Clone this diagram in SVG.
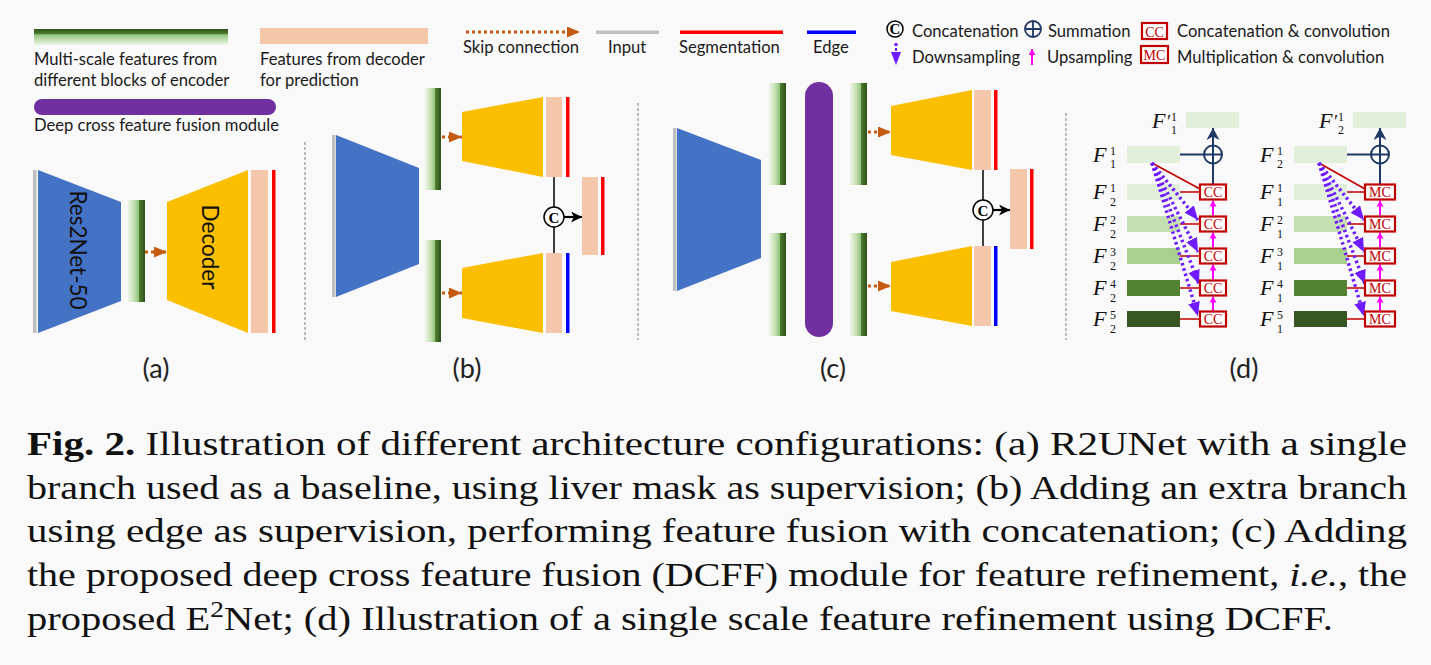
<svg xmlns="http://www.w3.org/2000/svg" width="1431" height="665" viewBox="0 0 1431 665">
<defs>
<linearGradient id="gH" x1="0" y1="0" x2="1" y2="0">
<stop offset="0" stop-color="#eef6e8"/>
<stop offset="0.35" stop-color="#c6e0b4"/>
<stop offset="0.62" stop-color="#93c47d"/>
<stop offset="0.66" stop-color="#4f7c31"/>
<stop offset="1" stop-color="#2f5019"/>
</linearGradient>
<linearGradient id="gV" x1="0" y1="0" x2="0" y2="1">
<stop offset="0" stop-color="#2f5019"/>
<stop offset="0.3" stop-color="#4f7c31"/>
<stop offset="0.36" stop-color="#93c47d"/>
<stop offset="1" stop-color="#eef6e8"/>
</linearGradient>
<marker id="mSkip" markerUnits="userSpaceOnUse" markerWidth="14" markerHeight="12" refX="13" refY="5.5" orient="auto"><path d="M0,0 L13,5.5 L0,11 z" fill="#c55a11"/></marker>
<marker id="mBlk" markerUnits="userSpaceOnUse" markerWidth="12" markerHeight="12" refX="11" refY="5.5" orient="auto"><path d="M0,0 L11,5.5 L0,11 L3,5.5 z" fill="#000"/></marker>
<marker id="mNavy" markerUnits="userSpaceOnUse" markerWidth="14" markerHeight="14" refX="12" refY="6.5" orient="auto"><path d="M0,0 L12,6.5 L0,13 L3.5,6.5 z" fill="#1f3864"/></marker>
<marker id="mPur" markerUnits="userSpaceOnUse" markerWidth="15" markerHeight="13" refX="14" refY="6" orient="auto"><path d="M0,0 L14,6 L0,12 z" fill="#6e1cff"/></marker>
<marker id="mMag" markerUnits="userSpaceOnUse" markerWidth="8" markerHeight="8" refX="6" refY="3.5" orient="auto"><path d="M0,0 L6,3.5 L0,7 z" fill="#ff00ff"/></marker>
<style>
.lg{font-family:Lato,"Liberation Sans",sans-serif;font-size:16.6px;fill:#1a1a1a}
.pl{font-family:Lato,"Liberation Sans",sans-serif;font-size:27px;fill:#222;text-anchor:middle}
.rot{font-family:Lato,"Liberation Sans",sans-serif;font-size:22.5px;fill:#111;text-anchor:middle;dominant-baseline:central}
.cap{font-family:"Liberation Serif",serif;font-size:34px;fill:#111}
.fi{font-family:"Liberation Serif",serif;font-style:italic;font-size:22px;fill:#111}
.sc{font-family:"Liberation Serif",serif;font-style:normal;font-size:12px;fill:#111}
.cc{font-family:"Liberation Serif",serif;font-size:14px;fill:#c00000;text-anchor:middle}
.ccb{fill:#fff;stroke:#c00000;stroke-width:2.2}
.skip{stroke:#c55a11;stroke-width:3;stroke-dasharray:3 3;fill:none;marker-end:url(#mSkip)}
.sep{stroke:#a6a6a6;stroke-width:1.5;stroke-dasharray:3 2}
.enc{fill:#4472c4}.dec{fill:#fbbf00}.pch{fill:#f4c7ab}.grn{fill:url(#gH)}
.inp{fill:#bfbfbf}.seg{fill:#ff0000}.edg{fill:#0000ff}
.catc{fill:#fff;stroke:#000;stroke-width:1.5}
.catt{font-family:"Liberation Serif",serif;font-weight:bold;font-size:15px;text-anchor:middle;fill:#000}
.blk{stroke:#000;stroke-width:1.5;fill:none}
.bar{stroke:#000;stroke-width:2.2;fill:none;marker-end:url(#mBlk)}
.nv{stroke:#1f3864;stroke-width:2;fill:none}
.red{stroke:#c00000;stroke-width:1.6;fill:none}
.pur{stroke:#6e1cff;stroke-width:3.5;stroke-dasharray:2.5 3;fill:none;marker-end:url(#mPur)}
.mag{stroke:#ff00ff;stroke-width:2;fill:none;marker-end:url(#mMag)}
.f1{fill:#e2efda}.f2{fill:#c6e0b4}.f3{fill:#a9d08e}.f4{fill:#548235}.f5{fill:#375623}
</style>
</defs>
<rect x="0" y="0" width="1431" height="665" fill="#f9f9f9"/>

<!-- Legend -->
<g id="legend">
<g id="lg-multiscale"><rect x="34" y="29" width="194" height="16" fill="url(#gV)"/>
<text class="lg" x="34" y="65">Multi-scale features from</text>
<text class="lg" x="34" y="86">different blocks of encoder</text></g>
<g id="lg-decoderfeat"><rect x="260" y="28" width="168" height="16" class="pch"/>
<text class="lg" x="260" y="65">Features from decoder</text>
<text class="lg" x="260" y="86">for prediction</text></g>
<g id="lg-dcff"><rect x="34" y="99" width="242" height="16" rx="8" fill="#7030a0"/>
<text class="lg" x="34" y="131">Deep cross feature fusion module</text></g>
<g id="lg-skip"><line class="skip" x1="466" y1="32" x2="580" y2="32"/>
<text class="lg" x="463" y="53">Skip connection</text></g>
<g id="lg-input"><rect class="inp" x="596" y="30.5" width="63" height="3.5"/><text class="lg" x="608" y="53">Input</text></g>
<g id="lg-seg"><rect class="seg" x="680" y="30.5" width="103" height="3.5"/><text class="lg" x="679" y="53">Segmentation</text></g>
<g id="lg-edge"><rect class="edg" x="807" y="30.5" width="49" height="3.5"/><text class="lg" x="813" y="53">Edge</text></g>
<g id="lg-concat"><circle cx="895" cy="29" r="8" fill="none" stroke="#000" stroke-width="1.5"/>
<text class="catt" x="895" y="34" font-size="13">C</text>
<text class="lg" x="912" y="37">Concatenation</text></g>
<g id="lg-sum"><circle cx="1033" cy="29" r="8" fill="none" stroke="#1f3864" stroke-width="1.8"/>
<path d="M1025,29 H1041 M1033,21 V37" stroke="#1f3864" stroke-width="1.8"/>
<text class="lg" x="1048" y="37">Summation</text></g>
<g id="lg-cc"><rect class="ccb" x="1142" y="23" width="25" height="16"/>
<text class="cc" x="1154.5" y="36.5" font-size="16">CC</text>
<text class="lg" x="1177" y="37">Concatenation &amp; convolution</text></g>
<g id="lg-down"><circle cx="896" cy="44.5" r="1.8" fill="#6e1cff"/>
<path d="M896,48 V51" stroke="#6e1cff" stroke-width="2"/>
<polygon points="891,52 901,52 896,65" fill="#6e1cff"/>
<text class="lg" x="912" y="63">Downsampling</text></g>
<g id="lg-up"><line class="mag" x1="1032" y1="65" x2="1032" y2="49"/>
<text class="lg" x="1047" y="63">Upsampling</text></g>
<g id="lg-mc"><rect class="ccb" x="1141" y="46" width="27" height="17"/>
<text class="cc" x="1154.5" y="60" font-size="15">MC</text>
<text class="lg" x="1177" y="63">Multiplication &amp; convolution</text></g>
</g>

<!-- Separators -->
<g id="separators">
<line class="sep" x1="305" y1="142" x2="305" y2="340"/>
<line class="sep" x1="638" y1="103" x2="638" y2="340"/>
<line class="sep" x1="1066" y1="113" x2="1066" y2="340"/>
</g>

<!-- Panel (a) -->
<g id="panel-a">
<g id="a-input"><rect class="inp" x="33" y="170" width="3.5" height="163"/></g>
<g id="a-encoder"><polygon class="enc" points="38,170 121,202 121,301 38,333"/>
<text class="rot" transform="translate(78,250) rotate(90)">Res2Net-50</text></g>
<g id="a-features"><rect class="grn" x="128" y="200" width="17" height="102"/></g>
<g id="a-decoder"><polygon class="dec" points="167,202 248,170 248,333 167,300"/>
<text class="rot" transform="translate(210,247) rotate(90)">Decoder</text></g>
<g id="a-pred"><rect class="pch" x="251" y="170" width="17" height="163"/></g>
<g id="a-seg"><rect class="seg" x="272" y="170" width="3.5" height="163"/></g>
<text class="pl" x="156" y="378">(a)</text>
</g>

<!-- Panel (b) -->
<g id="panel-b">
<g id="b-input"><rect class="inp" x="332" y="135" width="3.5" height="162"/></g>
<g id="b-encoder"><polygon class="enc" points="336,135 419,168 419,264 336,297"/></g>
<g id="b-feat-top"><rect class="grn" x="425" y="88" width="16" height="102"/></g>
<g id="b-feat-bot"><rect class="grn" x="425" y="240" width="16" height="102"/></g>
<g id="b-dec-top"><polygon class="dec" points="462,112 543,97 543,177 462,161"/></g>
<g id="b-pred-top"><rect class="pch" x="546" y="97" width="16" height="80"/><rect class="seg" x="566" y="97" width="3.5" height="80"/></g>
<g id="b-dec-bot"><polygon class="dec" points="462,268 543,253 543,333 462,318"/></g>
<g id="b-pred-bot"><rect class="pch" x="546" y="253" width="16" height="80"/><rect class="edg" x="566" y="253" width="3.5" height="80"/></g>
<g id="b-out"><rect class="pch" x="582" y="177" width="16" height="78"/><rect class="seg" x="601" y="177" width="3.5" height="78"/></g>
<text class="pl" x="467" y="378">(b)</text>
</g>

<!-- Panel (c) -->
<g id="panel-c">
<g id="c-input"><rect class="inp" x="673" y="128" width="3.5" height="163"/></g>
<g id="c-encoder"><polygon class="enc" points="677,128 761,160 761,258 677,291"/></g>
<g id="c-feat-l-top"><rect class="grn" x="769" y="83" width="17" height="102"/></g>
<g id="c-feat-l-bot"><rect class="grn" x="769" y="233" width="17" height="103"/></g>
<g id="c-dcff"><rect x="805" y="82" width="28" height="255" rx="14" fill="#7030a0"/></g>
<g id="c-feat-r-top"><rect class="grn" x="850" y="83" width="17" height="102"/></g>
<g id="c-feat-r-bot"><rect class="grn" x="850" y="233" width="17" height="103"/></g>
<g id="c-dec-top"><polygon class="dec" points="891,106 972,90 972,170 891,155"/></g>
<g id="c-pred-top"><rect class="pch" x="974" y="90" width="17" height="80"/><rect class="seg" x="994" y="90" width="3.5" height="80"/></g>
<g id="c-dec-bot"><polygon class="dec" points="891,262 972,246 972,326 891,311"/></g>
<g id="c-pred-bot"><rect class="pch" x="974" y="246" width="17" height="80"/><rect class="edg" x="994" y="246" width="3.5" height="80"/></g>
<g id="c-out"><rect class="pch" x="1010" y="169" width="17" height="80"/><rect class="seg" x="1030" y="169" width="3.5" height="80"/></g>
<text class="pl" x="833" y="378">(c)</text>
</g>

<!-- Panel (d) nodes -->
<g id="panel-d">
<g id="d-left">
<rect class="f1" x="1186" y="112" width="53" height="16"/>
<text class="fi" x="1152" y="128">F<tspan x="1166" y="128" font-size="18">′</tspan><tspan class="sc" x="1171" y="121">1</tspan><tspan class="sc" x="1171" y="133.5">1</tspan></text>
<rect class="f1" x="1127" y="146" width="53" height="17"/>
<text class="fi" x="1093" y="162">F<tspan class="sc" x="1110" y="154.5">1</tspan><tspan class="sc" x="1110" y="168">1</tspan></text>
<rect class="f1" x="1127" y="184" width="53" height="16"/>
<text class="fi" x="1093" y="199">F<tspan class="sc" x="1110" y="192">1</tspan><tspan class="sc" x="1110" y="205.5">2</tspan></text>
<rect class="f2" x="1127" y="216" width="53" height="16"/>
<text class="fi" x="1093" y="231">F<tspan class="sc" x="1110" y="224">2</tspan><tspan class="sc" x="1110" y="237.5">2</tspan></text>
<rect class="f3" x="1127" y="248" width="53" height="16"/>
<text class="fi" x="1093" y="263">F<tspan class="sc" x="1110" y="256">3</tspan><tspan class="sc" x="1110" y="269.5">2</tspan></text>
<rect class="f4" x="1127" y="280" width="53" height="16"/>
<text class="fi" x="1093" y="295">F<tspan class="sc" x="1110" y="288">4</tspan><tspan class="sc" x="1110" y="301.5">2</tspan></text>
<rect class="f5" x="1127" y="311" width="53" height="16"/>
<text class="fi" x="1093" y="326">F<tspan class="sc" x="1110" y="319">5</tspan><tspan class="sc" x="1110" y="332.5">2</tspan></text>
</g>
<g id="d-right">
<rect class="f1" x="1353" y="112" width="53" height="16"/>
<text class="fi" x="1319" y="128">F<tspan x="1333" y="128" font-size="18">′</tspan><tspan class="sc" x="1338" y="121">1</tspan><tspan class="sc" x="1338" y="133.5">2</tspan></text>
<rect class="f1" x="1294" y="146" width="53" height="17"/>
<text class="fi" x="1260" y="162">F<tspan class="sc" x="1277" y="154.5">1</tspan><tspan class="sc" x="1277" y="168">2</tspan></text>
<rect class="f1" x="1294" y="184" width="53" height="16"/>
<text class="fi" x="1260" y="199">F<tspan class="sc" x="1277" y="192">1</tspan><tspan class="sc" x="1277" y="205.5">1</tspan></text>
<rect class="f2" x="1294" y="216" width="53" height="16"/>
<text class="fi" x="1260" y="231">F<tspan class="sc" x="1277" y="224">2</tspan><tspan class="sc" x="1277" y="237.5">1</tspan></text>
<rect class="f3" x="1294" y="248" width="53" height="16"/>
<text class="fi" x="1260" y="263">F<tspan class="sc" x="1277" y="256">3</tspan><tspan class="sc" x="1277" y="269.5">1</tspan></text>
<rect class="f4" x="1294" y="280" width="53" height="16"/>
<text class="fi" x="1260" y="295">F<tspan class="sc" x="1277" y="288">4</tspan><tspan class="sc" x="1277" y="301.5">1</tspan></text>
<rect class="f5" x="1294" y="311" width="53" height="16"/>
<text class="fi" x="1260" y="326">F<tspan class="sc" x="1277" y="319">5</tspan><tspan class="sc" x="1277" y="332.5">1</tspan></text>
</g>
<text class="pl" x="1244" y="378">(d)</text>
</g>

<!-- Connectors -->
<g id="connectors">
<line class="skip" x1="145" y1="252" x2="167" y2="252"/>
<line class="skip" x1="442" y1="137" x2="462" y2="137"/>
<line class="skip" x1="442" y1="293" x2="462" y2="293"/>
<line class="skip" x1="868" y1="132" x2="891" y2="132"/>
<line class="skip" x1="868" y1="286" x2="891" y2="286"/>
<line class="blk" x1="554" y1="177" x2="554" y2="253"/>
<line class="bar" x1="564" y1="217" x2="582" y2="217"/>
<line class="blk" x1="983" y1="170" x2="983" y2="246"/>
<line class="bar" x1="993" y1="210" x2="1010" y2="210"/>
<!-- d left -->
<path class="nv" d="M1180,154.5 H1204 M1213,163.5 V184.5"/>
<line class="nv" x1="1213" y1="145.5" x2="1213" y2="128" marker-end="url(#mNavy)"/>
<path class="red" d="M1180,192 H1200 M1180,224 H1200 M1180,256 H1200 M1180,288 H1200 M1180,319 H1200 M1152,163 L1200,189"/>
<line class="pur" x1="1152" y1="163" x2="1198" y2="220"/>
<line class="pur" x1="1152" y1="163" x2="1198" y2="252"/>
<line class="pur" x1="1152" y1="163" x2="1199" y2="284"/>
<line class="pur" x1="1152" y1="163" x2="1198" y2="316"/>
<line class="mag" x1="1213" y1="216.5" x2="1213" y2="200.5"/>
<line class="mag" x1="1213" y1="248.5" x2="1213" y2="232.5"/>
<line class="mag" x1="1213" y1="280.5" x2="1213" y2="264.5"/>
<line class="mag" x1="1213" y1="311.5" x2="1213" y2="296.5"/>
<!-- d right -->
<path class="nv" d="M1347,154.5 H1371 M1380,163.5 V184.5"/>
<line class="nv" x1="1380" y1="145.5" x2="1380" y2="128" marker-end="url(#mNavy)"/>
<path class="red" d="M1347,192 H1365 M1347,224 H1365 M1347,256 H1365 M1347,288 H1365 M1347,319 H1365 M1319,163 L1365,189"/>
<line class="pur" x1="1319" y1="163" x2="1364" y2="220"/>
<line class="pur" x1="1319" y1="163" x2="1364" y2="252"/>
<line class="pur" x1="1319" y1="163" x2="1365" y2="284"/>
<line class="pur" x1="1319" y1="163" x2="1364" y2="316"/>
<line class="mag" x1="1380" y1="216.5" x2="1380" y2="200.5"/>
<line class="mag" x1="1380" y1="248.5" x2="1380" y2="232.5"/>
<line class="mag" x1="1380" y1="280.5" x2="1380" y2="264.5"/>
<line class="mag" x1="1380" y1="311.5" x2="1380" y2="296.5"/>
</g>

<!-- Operator nodes -->
<g id="b-concat"><circle class="catc" cx="554" cy="217" r="10"/><text class="catt" x="554" y="222.5">C</text></g>
<g id="c-concat"><circle class="catc" cx="983" cy="210" r="10"/><text class="catt" x="983" y="215.5">C</text></g>
<g id="d-sum-left"><circle cx="1213" cy="154.5" r="9" fill="#fff" stroke="#1f3864" stroke-width="2"/><path d="M1204,154.5 H1222 M1213,145.5 V163.5" stroke="#1f3864" stroke-width="2"/></g>
<g id="d-sum-right"><circle cx="1380" cy="154.5" r="9" fill="#fff" stroke="#1f3864" stroke-width="2"/><path d="M1371,154.5 H1389 M1380,145.5 V163.5" stroke="#1f3864" stroke-width="2"/></g>
<g id="d-cc">
<rect class="ccb" x="1200" y="184.5" width="26" height="15"/><text class="cc" x="1213" y="197">CC</text>
<rect class="ccb" x="1200" y="216.5" width="26" height="15"/><text class="cc" x="1213" y="229">CC</text>
<rect class="ccb" x="1200" y="248.5" width="26" height="15"/><text class="cc" x="1213" y="261">CC</text>
<rect class="ccb" x="1200" y="280.5" width="26" height="15"/><text class="cc" x="1213" y="293">CC</text>
<rect class="ccb" x="1200" y="311.5" width="26" height="15"/><text class="cc" x="1213" y="324">CC</text>
</g>
<g id="d-mc">
<rect class="ccb" x="1365" y="184.5" width="30" height="15"/><text class="cc" x="1380" y="197">MC</text>
<rect class="ccb" x="1365" y="216.5" width="30" height="15"/><text class="cc" x="1380" y="229">MC</text>
<rect class="ccb" x="1365" y="248.5" width="30" height="15"/><text class="cc" x="1380" y="261">MC</text>
<rect class="ccb" x="1365" y="280.5" width="30" height="15"/><text class="cc" x="1380" y="293">MC</text>
<rect class="ccb" x="1365" y="311.5" width="30" height="15"/><text class="cc" x="1380" y="324">MC</text>
</g>

<!-- Caption -->
<g id="caption">
<text class="cap" x="27" y="455" textLength="1380" lengthAdjust="spacingAndGlyphs"><tspan font-weight="bold">Fig. 2.</tspan> Illustration of different architecture configurations: (a) R2UNet with a single</text>
<text class="cap" x="27" y="499" textLength="1380" lengthAdjust="spacingAndGlyphs">branch used as a baseline, using liver mask as supervision; (b) Adding an extra branch</text>
<text class="cap" x="27" y="542" textLength="1380" lengthAdjust="spacingAndGlyphs">using edge as supervision, performing feature fusion with concatenation; (c) Adding</text>
<text class="cap" x="27" y="586" textLength="1380" lengthAdjust="spacingAndGlyphs">the proposed deep cross feature fusion (DCFF) module for feature refinement, <tspan font-style="italic">i.e.</tspan>, the</text>
<text class="cap" x="27" y="630" textLength="1306" lengthAdjust="spacingAndGlyphs">proposed E<tspan dy="-13" font-size="23">2</tspan><tspan dy="13">Net; (d) Illustration of a single scale feature refinement using DCFF.</tspan></text>
</g>
</svg>
